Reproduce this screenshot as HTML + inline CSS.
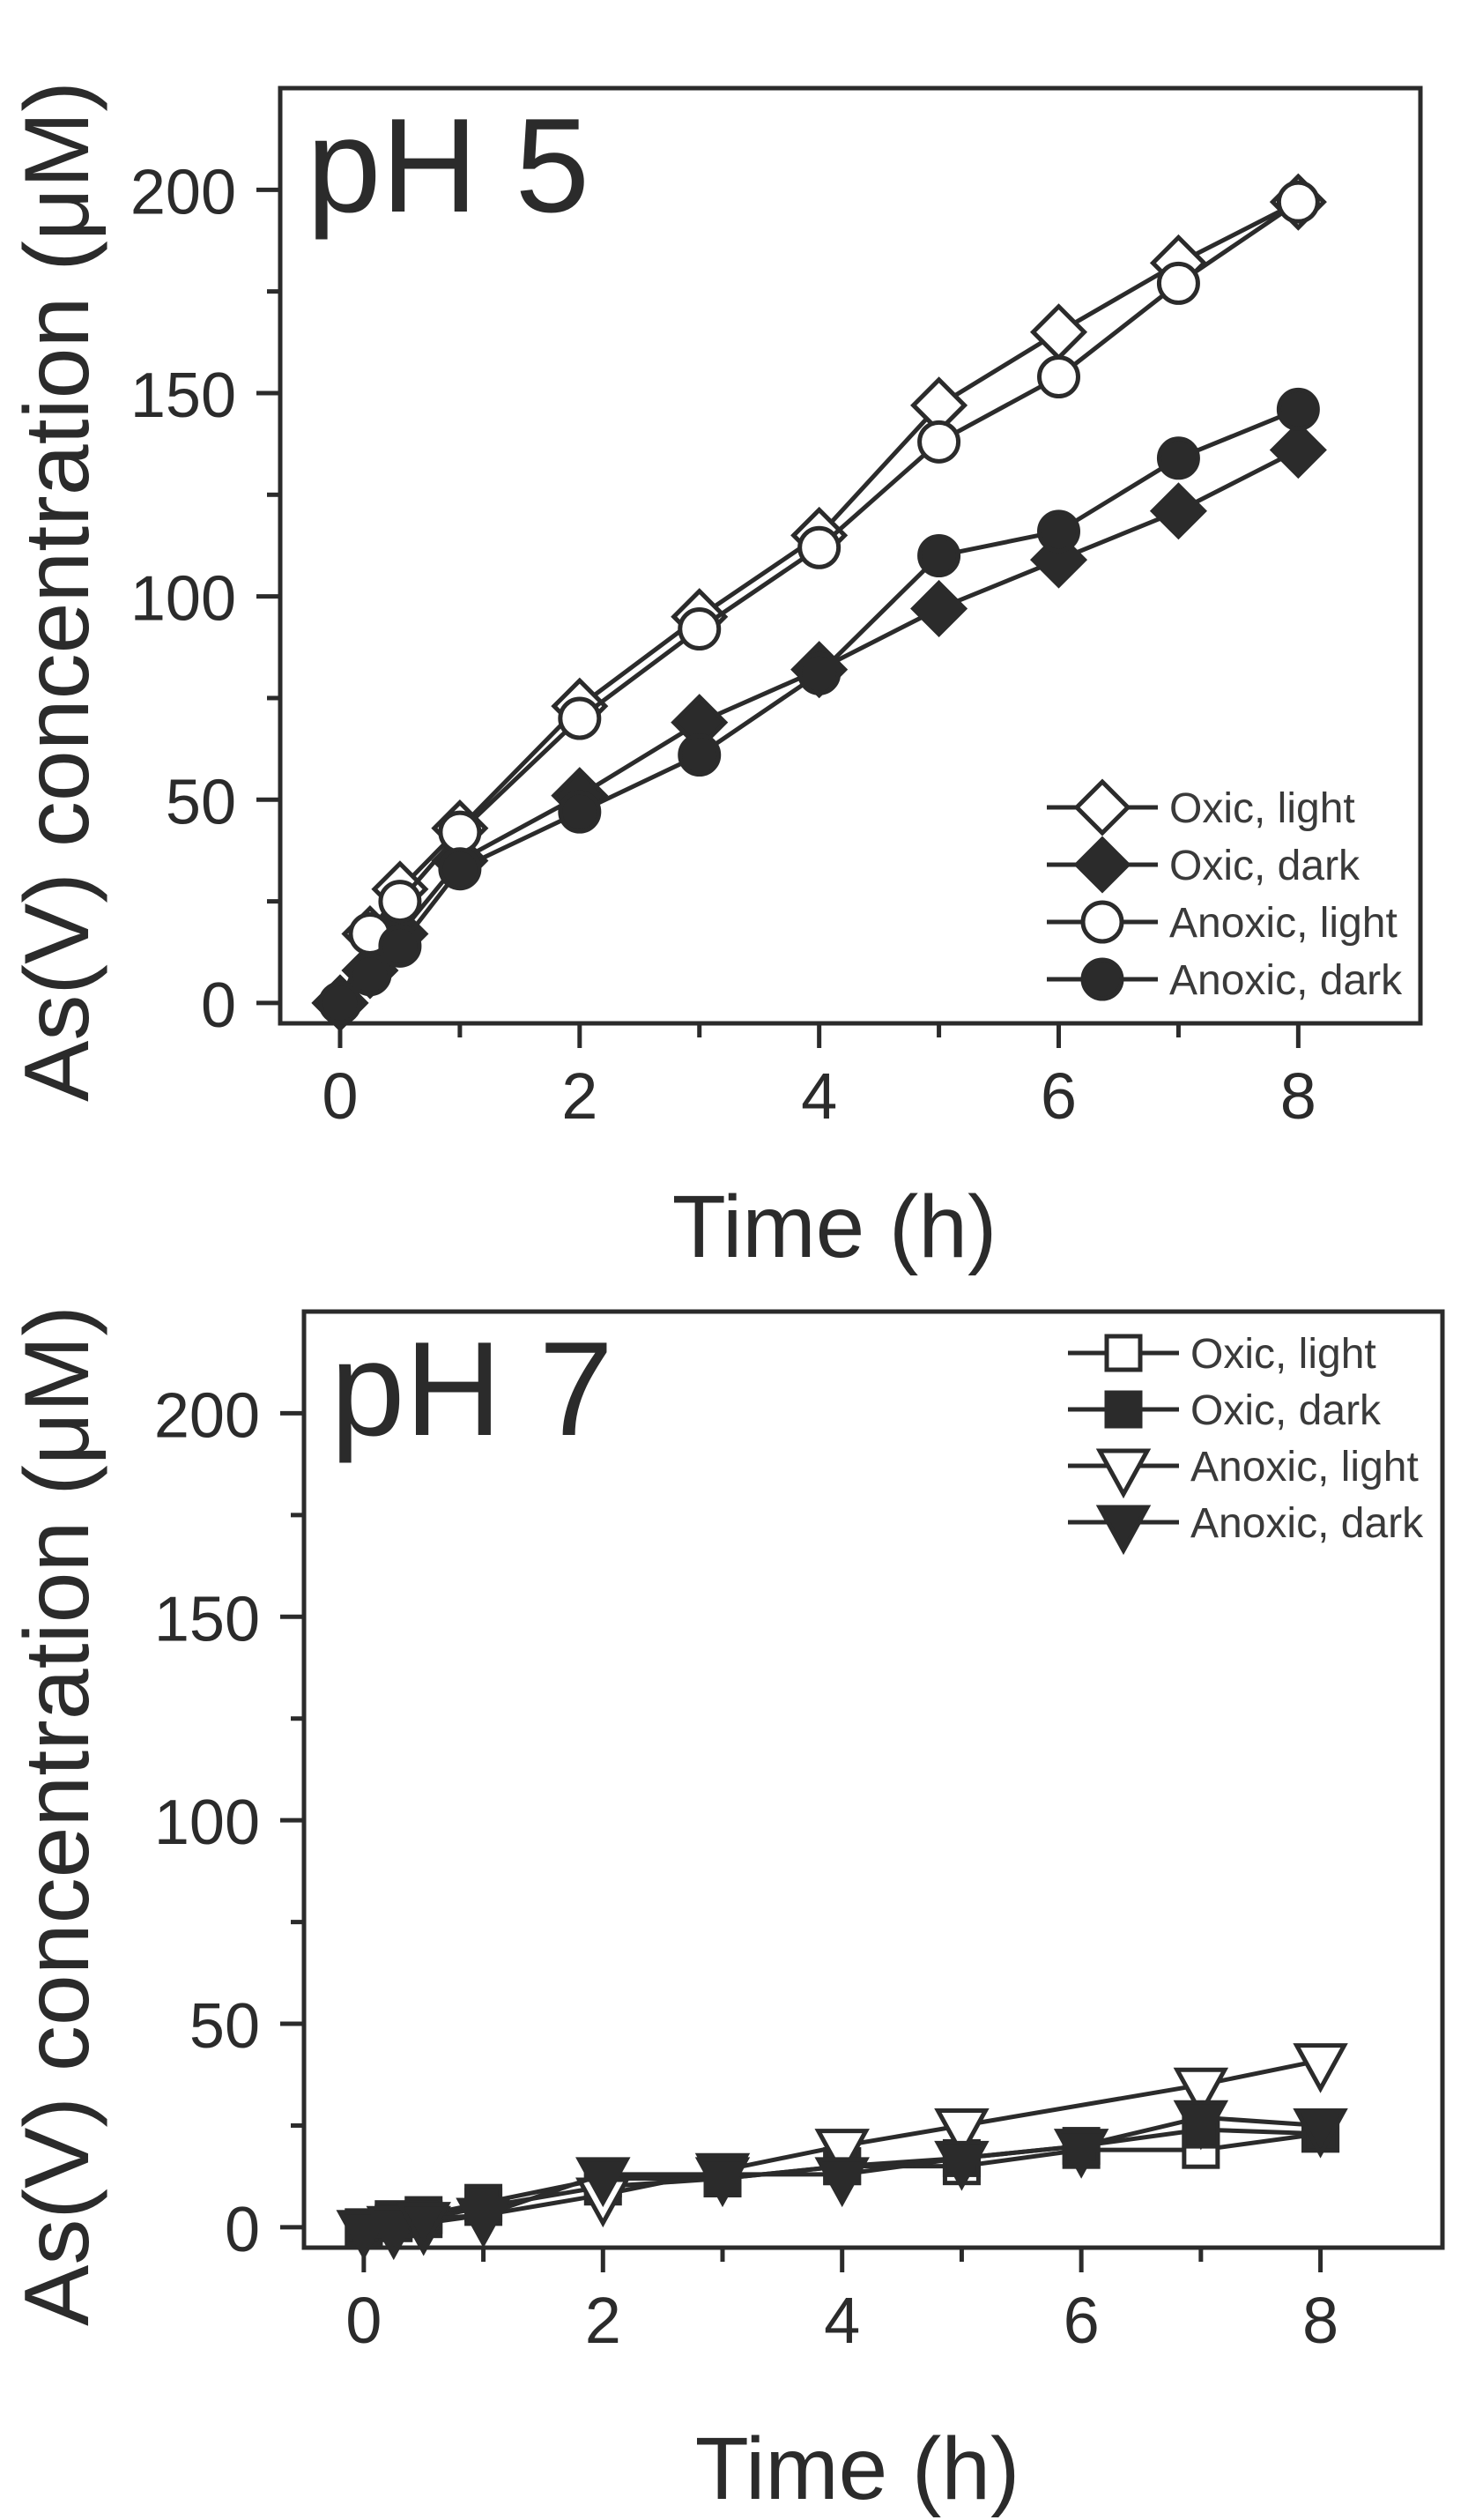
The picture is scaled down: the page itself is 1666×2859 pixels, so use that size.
<!DOCTYPE html>
<html><head><meta charset="utf-8"><style>
html,body{margin:0;padding:0;background:#fff;}
svg{display:block;font-family:"Liberation Sans",Arial,sans-serif;}
</style></head>
<body>
<svg id="fig" width="1666" height="2859" viewBox="0 0 1666 2859" xmlns="http://www.w3.org/2000/svg"></svg>
<script>
const times = [0, 0.25, 0.5, 1, 2, 3, 4, 5, 6, 7, 8];
// pH 5
const ph5OxicLight = [0, 17, 28, 43, 73, 95, 115, 147, 165, 182, 197];
const ph5OxicDark = [0, 8, 17, 35, 51, 69, 82, 97, 109, 121, 136];
const ph5AnoxicLight = [0, 17, 25, 42, 70, 92, 112, 138, 154, 177, 197];
const ph5AnoxicDark = [0, 7, 14, 33, 47, 61, 81, 110, 116, 134, 146];
// pH 7
const ph7OxicLight = [0, 1, 2, 5, 10, 12, 15, 15, 19, 19, 23];
const ph7OxicDark = [0, 2, 3, 6, 12, 12, 15, 17, 20, 24, 23];
const ph7AnoxicLight = [0, 0, 1, 3, 8, 14, 20, 25, null, 35, 41];
const ph7AnoxicDark = [0, 1, 2, 3, 13, 13, 13, 17, 20, 27, 25];
const xTickLabels = ["0", "2", "4", "6", "8"];
const xMajor = [0, 2, 4, 6, 8];
const xMinor = [1, 3, 5, 7];
const yTickLabels = ["0", "50", "100", "150", "200"];
const yMajor = [0, 50, 100, 150, 200];
const yMinor = [25, 75, 125, 175];
const legend5 = ["Oxic, light", "Oxic, dark", "Anoxic, light", "Anoxic, dark"];
const legend7 = ["Oxic, light", "Oxic, dark", "Anoxic, light", "Anoxic, dark"];

const NS = "http://www.w3.org/2000/svg";
const svg = document.getElementById("fig");
const C = "#2b2b2b";
function el(tag, attrs, parent) {
  const e = document.createElementNS(NS, tag);
  for (const k in attrs) e.setAttribute(k, attrs[k]);
  (parent || svg).appendChild(e);
  return e;
}
const XD = [-0.5, 9.02], YD = [-5, 225];

function marker(g, shape, cx, cy, filled) {
  const fill = filled ? C : "#fff";
  let m;
  if (shape === "diamond") {
    const r = 29;
    m = el("polygon", {points: `${cx},${cy-r} ${cx+r},${cy} ${cx},${cy+r} ${cx-r},${cy}`, fill, stroke: C, "stroke-width": 5}, g);
  } else if (shape === "circle") {
    m = el("circle", {cx, cy, r: 22, fill, stroke: C, "stroke-width": 5}, g);
  } else if (shape === "square") {
    m = el("rect", {x: cx-19, y: cy-19, width: 38, height: 38, fill, stroke: C, "stroke-width": 5}, g);
  } else {
    m = el("polygon", {points: `${cx-27},${cy-17} ${cx+27},${cy-17} ${cx},${cy+32}`, fill, stroke: C, "stroke-width": 5}, g);
  }
  return m;
}

function panel(cfg) {
  const {L, R, T, B, label, series, legend, leg, name, xtOff} = cfg;
  const g = el("g", {});
  
  
  const sx = v => L + (v - XD[0]) / (XD[1] - XD[0]) * (R - L);
  const sy = v => B - (v - YD[0]) / (YD[1] - YD[0]) * (B - T);
  const fr = el("rect", {x: L, y: T, width: R-L, height: B-T, fill: "none", stroke: C, "stroke-width": 5}, g);
  
  
  yMajor.forEach((v, i) => {
    const y = sy(v);
    const t = el("line", {x1: L-27, x2: L, y1: y, y2: y, stroke: C, "stroke-width": 5}, g);
    
    
    const tx = el("text", {x: L-50, y: y+27, "text-anchor": "end", "font-size": 72, fill: C}, g);
    tx.textContent = yTickLabels[i];
    
    
  });
  yMinor.forEach(v => {
    const y = sy(v);
    const t = el("line", {x1: L-15, x2: L, y1: y, y2: y, stroke: C, "stroke-width": 5}, g);
    
    
  });
  xMajor.forEach((v, i) => {
    const x = sx(v);
    const t = el("line", {x1: x, x2: x, y1: B, y2: B+28, stroke: C, "stroke-width": 5}, g);
    
    
    const tx = el("text", {x: x, y: B+108, "text-anchor": "middle", "font-size": 74, fill: C}, g);
    tx.textContent = xTickLabels[i];
    
    
  });
  xMinor.forEach(v => {
    const x = sx(v);
    const t = el("line", {x1: x, x2: x, y1: B, y2: B+16, stroke: C, "stroke-width": 5}, g);
    
    
  });
  const xt = el("text", {x: (L+R)/2 - 18, y: B+xtOff, "text-anchor": "middle", "font-size": 100, fill: C}, g);
  xt.textContent = "Time (h)";
  
  
  const yc = B - 490;
  const yt = el("text", {x: 0, y: 0, "text-anchor": "middle", "font-size": 104, fill: C, transform: `translate(100,${yc}) rotate(-90)`}, g);
  yt.textContent = "As(V) concentration (\u03bcM)";
  
  
  const pl = el("text", {x: L+30, y: T+140, "font-size": 152, fill: C}, g);
  pl.textContent = label;
  
  
  series.forEach(s => {
    const sg = el("g", {}, g);
    
    
    let pts = [];
    times.forEach((t, i) => { if (s.vals[i] !== null) pts.push([sx(t), sy(s.vals[i])]); });
    const pl2 = el("polyline", {points: pts.map(p => p.join(",")).join(" "), fill: "none", stroke: C, "stroke-width": 5}, sg);
    
    
    pts.forEach(p => {
      const m = marker(sg, s.shape, p[0], p[1], s.filled);
      
      
    });
  });
  const lg = el("g", {}, g);
  
  
  series.forEach((s, i) => {
    const y = leg.y0 + i * leg.dy;
    const eg = el("g", {}, lg);
    
    
    el("line", {x1: leg.x-63, x2: leg.x+63, y1: y, y2: y, stroke: C, "stroke-width": 5}, eg);
    marker(eg, s.shape, leg.x, y, s.filled);
    const tx = el("text", {x: leg.x+76, y: y+17, "font-size": 48, fill: "#3a3a3a"}, eg);
    tx.textContent = legend[i];
  });
}

panel({name: "ph5-panel", L: 318, R: 1612, T: 100, B: 1161, label: "pH 5", legend: legend5, xtOff: 265,
  leg: {x: 1251, y0: 916, dy: 65},
  series: [
    {name: "oxic-light", vals: ph5OxicLight, shape: "diamond", filled: false},
    {name: "oxic-dark", vals: ph5OxicDark, shape: "diamond", filled: true},
    {name: "anoxic-light", vals: ph5AnoxicLight, shape: "circle", filled: false},
    {name: "anoxic-dark", vals: ph5AnoxicDark, shape: "circle", filled: true}
  ]});
panel({name: "ph7-panel", L: 345, R: 1637, T: 1488, B: 2550, label: "pH 7", legend: legend7, xtOff: 285,
  leg: {x: 1275, y0: 1535, dy: 64},
  series: [
    {name: "oxic-light", vals: ph7OxicLight, shape: "square", filled: false},
    {name: "oxic-dark", vals: ph7OxicDark, shape: "square", filled: true},
    {name: "anoxic-light", vals: ph7AnoxicLight, shape: "tri", filled: false},
    {name: "anoxic-dark", vals: ph7AnoxicDark, shape: "tri", filled: true}
  ]});
</script>
</body></html>
